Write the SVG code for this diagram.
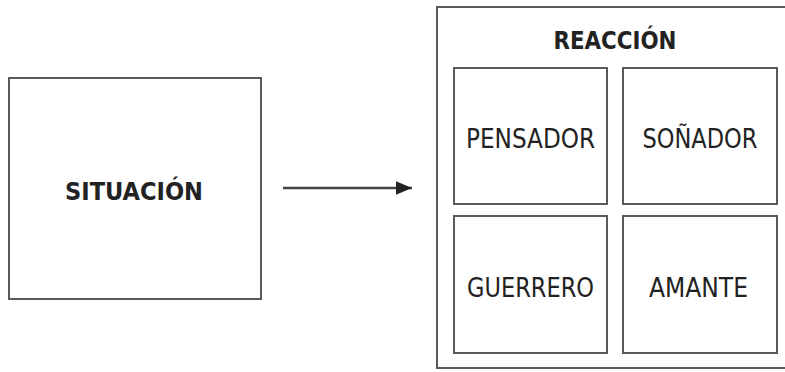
<svg xmlns="http://www.w3.org/2000/svg" width="785" height="372" viewBox="0 0 785 372">
  <defs>
    <marker id="arrowhead" viewBox="0 0 10 10" refX="10" refY="5" markerWidth="6.5" markerHeight="5.5" markerUnits="strokeWidth" orient="auto" preserveAspectRatio="none">
      <path d="M0,0 L10,5 L0,10 Z" fill="#222"/>
    </marker>
    <style>
      .box { fill: #fff; stroke: #5a5a5a; stroke-width: 2; }
      .label { font-family: "DejaVu Sans Condensed", "Liberation Sans Narrow", "Liberation Sans", sans-serif; fill: #222; text-anchor: middle; }
      .title { font-weight: bold; font-size: 25px; }
      .item { font-size: 27px; }
      .conn { stroke: #444; stroke-width: 2.5; fill: none; }
    </style>
  </defs>
  <rect width="785" height="372" fill="#fff"/>

  <g id="situacion">
    <rect class="box" x="9" y="78" width="252" height="221"/>
    <text class="label title" x="134" y="200" textLength="138" lengthAdjust="spacingAndGlyphs">SITUACIÓN</text>
  </g>

  <g id="connectors">
    <line class="conn" x1="283" y1="188" x2="412" y2="188" marker-end="url(#arrowhead)"/>
  </g>

  <g id="reaccion">
    <rect class="box" x="437" y="7" width="350" height="361"/>
    <text class="label title" x="615" y="49" textLength="123" lengthAdjust="spacingAndGlyphs">REACCIÓN</text>
  </g>

  <g id="pensador">
    <rect class="box" x="454" y="68" width="153" height="136"/>
    <text class="label item" x="530.5" y="148" textLength="129" lengthAdjust="spacingAndGlyphs">PENSADOR</text>
  </g>

  <g id="sonador">
    <rect class="box" x="623" y="68" width="154" height="136"/>
    <text class="label item" x="700" y="148" textLength="115" lengthAdjust="spacingAndGlyphs">SOÑADOR</text>
  </g>

  <g id="guerrero">
    <rect class="box" x="454" y="216" width="153" height="137"/>
    <text class="label item" x="530.5" y="297" textLength="127" lengthAdjust="spacingAndGlyphs">GUERRERO</text>
  </g>

  <g id="amante">
    <rect class="box" x="623" y="216" width="154" height="137"/>
    <text class="label item" x="698.5" y="297" textLength="99" lengthAdjust="spacingAndGlyphs">AMANTE</text>
  </g>
</svg>
